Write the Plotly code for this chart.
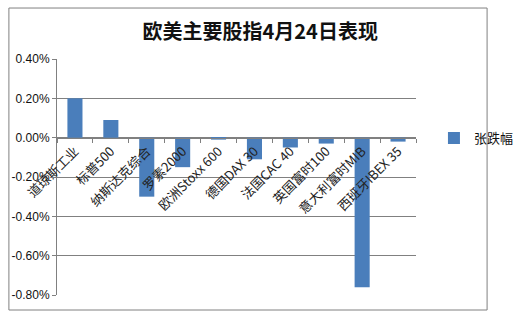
import plotly.graph_objects as go

categories = ["道琼斯工业", "标普500", "纳斯达克综合", "罗素2000", "欧洲Stoxx 600",
              "德国DAX 30", "法国CAC 40", "英国富时100", "意大利富时MIB", "西班牙IBEX 35"]
values = [0.20, 0.09, -0.30, -0.15, -0.01, -0.11, -0.05, -0.03, -0.76, -0.02]
y_ticks = [0.40, 0.20, 0.00, -0.20, -0.40, -0.60, -0.80]
y_tick_text = [f"{v:.2f}%" for v in y_ticks]
series_name = "张跌幅"
title = "欧美主要股指4月24日表现"

font_family = "Noto Sans CJK SC, Liberation Sans, sans-serif"

fig = go.Figure()
fig.add_trace(go.Bar(
    x=categories, y=values, name=series_name,
    marker=dict(color="#4A7EBB", line=dict(width=0)),
    width=0.42,
))

fig.update_layout(
    width=531, height=322,
    margin=dict(l=57, r=86, t=59, b=27),
    paper_bgcolor="white", plot_bgcolor="white",
    title=dict(text=title, x=0.49, xref="container", xanchor="center",
               y=0.9, yanchor="middle",
               font=dict(family=font_family, size=20, color="#111111", weight="bold")),
    showlegend=True,
    legend=dict(x=1.05, y=0.665, yanchor="middle", xanchor="left",
                font=dict(family=font_family, size=13, color="#111"),
                bgcolor="rgba(0,0,0,0)", itemwidth=30),
    font=dict(family=font_family, size=11, color="#222"),
)
fig.update_xaxes(
    type="category", anchor="free", position=2/3,
    tickangle=-45, showgrid=False, showline=True, linecolor="#808080", linewidth=1,
    ticks="outside", ticklen=4, tickcolor="#808080", tickson="boundaries",
    tickfont=dict(family=font_family, size=13, color="#222"),
    zeroline=False,
)
fig.update_yaxes(
    range=[-0.8, 0.4], tickvals=y_ticks, ticktext=y_tick_text,
    showgrid=True, gridcolor="#808080", gridwidth=1,
    showline=True, linecolor="#808080", linewidth=1,
    ticks="outside", ticklen=4, tickcolor="#808080",
    zeroline=False, tickfont=dict(family="Liberation Sans, sans-serif", size=12, color="#111"),
)
# outer frame
fig.add_shape(type="rect", xref="paper", yref="paper",
              x0=-0.134, x1=1.198, y0=-0.0636, y1=1.216,
              line=dict(color="#808080", width=1), fillcolor="rgba(0,0,0,0)", layer="below")

fig.write_html("out.html")
